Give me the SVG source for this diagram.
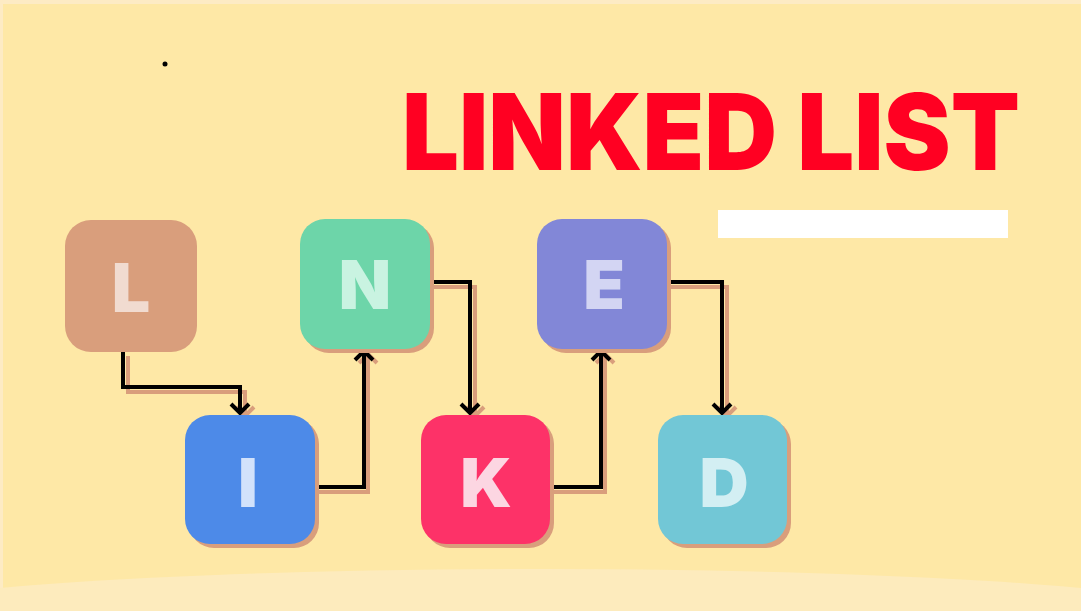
<svg xmlns="http://www.w3.org/2000/svg" width="1081" height="611" viewBox="0 0 1081 611">
<defs>
<style>
.shadow{fill:#d99e7c}
.letter{font-family:Inter,"Liberation Sans",Arial,sans-serif;font-weight:900;font-size:68px;text-anchor:middle}
.wire{fill:none;stroke:#000;stroke-width:4;stroke-linejoin:miter}
.wsh{fill:none;stroke:#d99e7c;stroke-width:4}
</style>
<marker id="arr" viewBox="0 0 20 24" refX="16" refY="12" markerWidth="20" markerHeight="24" markerUnits="userSpaceOnUse" orient="auto">
<path d="M7,3 L16,12 L7,21" fill="none" stroke="#000" stroke-width="4"/>
</marker>
<marker id="arrs" viewBox="0 0 20 24" refX="16" refY="12" markerWidth="20" markerHeight="24" markerUnits="userSpaceOnUse" orient="auto">
<path d="M7,3 L16,12 L7,21" fill="none" stroke="#d99e7c" stroke-width="4"/>
</marker>
</defs>
<rect x="0" y="0" width="1081" height="611" fill="#fee8a6"/>
<rect x="0" y="0" width="1081" height="4" fill="#fdebc4"/>
<rect x="0" y="0" width="3" height="611" fill="#fdebc4"/>
<ellipse cx="540" cy="621" rx="700" ry="52" fill="#fdebbd"/>
<circle cx="165" cy="64" r="2.5" fill="#000"/>
<text x="402" y="170" font-family="Inter,'Liberation Sans',Arial,sans-serif" font-weight="900" font-size="106" fill="#ff0022" textLength="618" lengthAdjust="spacingAndGlyphs">LINKED LIST</text>
<rect x="718" y="210" width="290" height="28" fill="#ffffff"/>
<g id="connectors">
<path class="wsh" d="M128,356 V392 H245 V416" marker-end="url(#arrs)"/>
<path class="wsh" d="M319,492 H368 V354" marker-end="url(#arrs)"/>
<path class="wsh" d="M434,287 H475 V416" marker-end="url(#arrs)"/>
<path class="wsh" d="M554,492 H605 V354" marker-end="url(#arrs)"/>
<path class="wsh" d="M671,287 H727 V416" marker-end="url(#arrs)"/>
<path class="wire" d="M123,352 V387 H240 V413" marker-end="url(#arr)"/>
<path class="wire" d="M315,487 H364 V351" marker-end="url(#arr)"/>
<path class="wire" d="M430,282 H470 V413" marker-end="url(#arr)"/>
<path class="wire" d="M550,487 H601 V351" marker-end="url(#arr)"/>
<path class="wire" d="M667,282 H722 V413" marker-end="url(#arr)"/>
</g>
<g id="node-L">
<rect x="65" y="220" width="132" height="132" rx="26" fill="#d99e7c"/>
<text class="letter" x="131" y="312" fill="#f1dbd0">L</text>
</g>
<g id="node-I">
<rect class="shadow" x="189" y="419" width="130" height="129" rx="25"/>
<rect x="185" y="415" width="130" height="129" rx="25" fill="#4d8ae8"/>
<text class="letter" x="248" y="507" fill="#d2e2fb">I</text>
</g>
<g id="node-N">
<rect class="shadow" x="304" y="223" width="130" height="130" rx="25"/>
<rect x="300" y="219" width="130" height="130" rx="25" fill="#6dd5a9"/>
<text class="letter" x="365" y="309" fill="#c9f3e1">N</text>
</g>
<g id="node-K">
<rect class="shadow" x="425" y="419" width="129" height="129" rx="25"/>
<rect x="421" y="415" width="129" height="129" rx="25" fill="#fd3268"/>
<text class="letter" x="486" y="507" fill="#fcd6e2">K</text>
</g>
<g id="node-E">
<rect class="shadow" x="541" y="223" width="130" height="130" rx="25"/>
<rect x="537" y="219" width="130" height="130" rx="25" fill="#8287d7"/>
<text class="letter" x="604" y="309" fill="#d3d5f3">E</text>
</g>
<g id="node-D">
<rect class="shadow" x="662" y="419" width="129" height="129" rx="25"/>
<rect x="658" y="415" width="129" height="129" rx="25" fill="#72c7d6"/>
<text class="letter" x="724" y="507" fill="#d3eff3">D</text>
</g>
</svg>
